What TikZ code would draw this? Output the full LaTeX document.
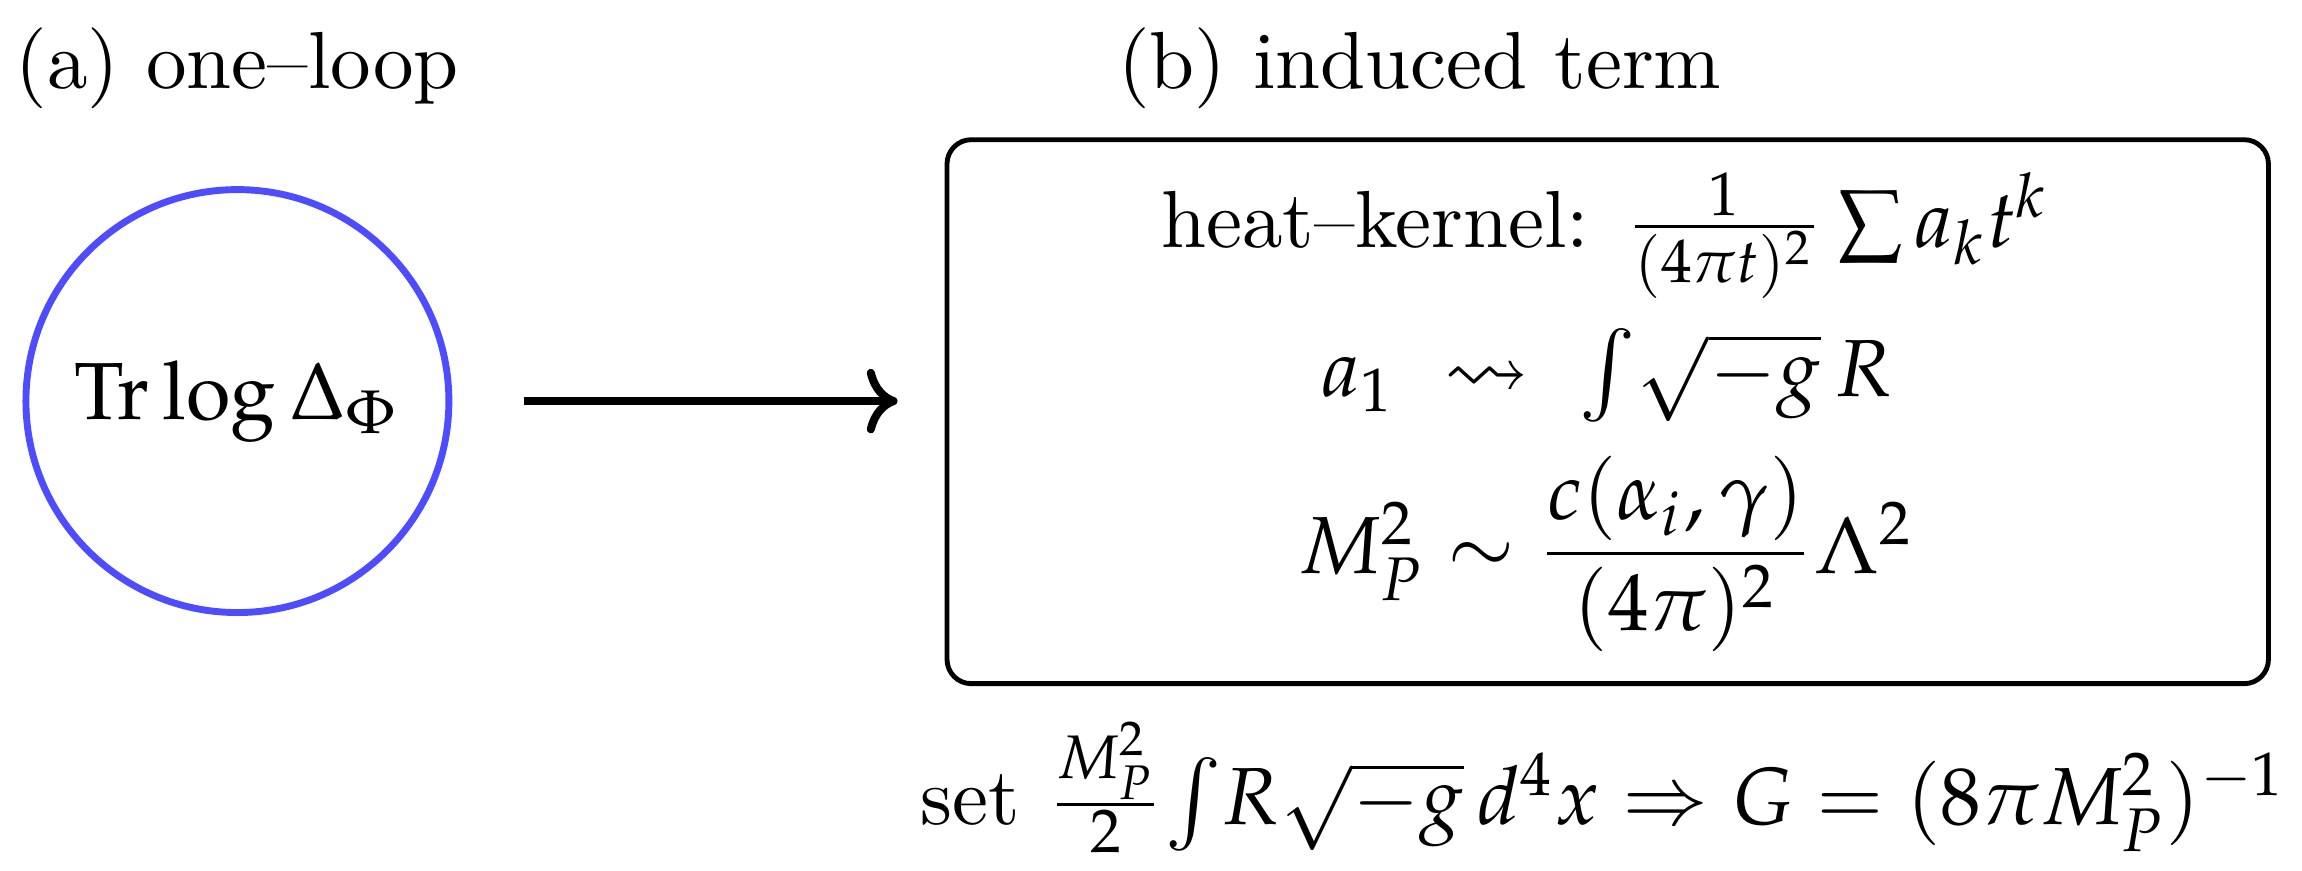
\documentclass[tikz,border=0pt]{standalone}
\usepackage{amsmath, amssymb}
\usepackage{mathpazo}
\usepackage{tikz}
\usetikzlibrary{arrows.meta, positioning, calc}
\usepackage{xcolor}
\definecolor{loopblue}{HTML}{4D4DFF}

\begin{document}
\begin{tikzpicture}
  \useasboundingbox (-1.03,-2.035) rectangle (8.957,1.74);
  % panel titles
  \node[anchor=base] (lbla) at (0, 1.358) {(a) one--loop};
  \node[anchor=base] (lblb) at (5.13, 1.358) {(b) induced term};
  % one-loop bubble
  \node[circle, draw=loopblue, line width=0.85pt, minimum size=1.835cm, inner sep=0pt]
    (loop) at (0, 0) {$\mathrm{Tr}\log\Delta_\Phi$};
  % induced term box
  \node[draw, semithick, rounded corners=3pt, minimum width=5.733cm, minimum height=2.36cm]
    (box) at (5.945, -0.046) {};
  \node[anchor=base] (hk) at (5.935, 0.668)
    {heat--kernel: $\frac{1}{(4\pi t)^2}\sum a_k t^k$};
  \node[anchor=base] (aone) at (5.94, 0.022)
    {$a_1 \ \rightsquigarrow\ \int\!\sqrt{-g}\,R$};
  \node[anchor=base] (mp) at (5.94, -0.75)
    {$M_P^2 \sim \dfrac{c(\alpha_i,\gamma)}{(4\pi)^2}\Lambda^2$};
  \node[anchor=base] (setG) at (5.928, -1.839)
    {set $\frac{M_P^2}{2}\!\int\!R\sqrt{-g}\,d^4x \Rightarrow G = (8\pi M_P^2)^{-1}$};
  % arrow
  \draw[->, line width=1pt, shorten <=0.312cm, shorten >=0.204cm]
    (loop.east) -- (loop.east -| box.west);
\end{tikzpicture}
\end{document}
